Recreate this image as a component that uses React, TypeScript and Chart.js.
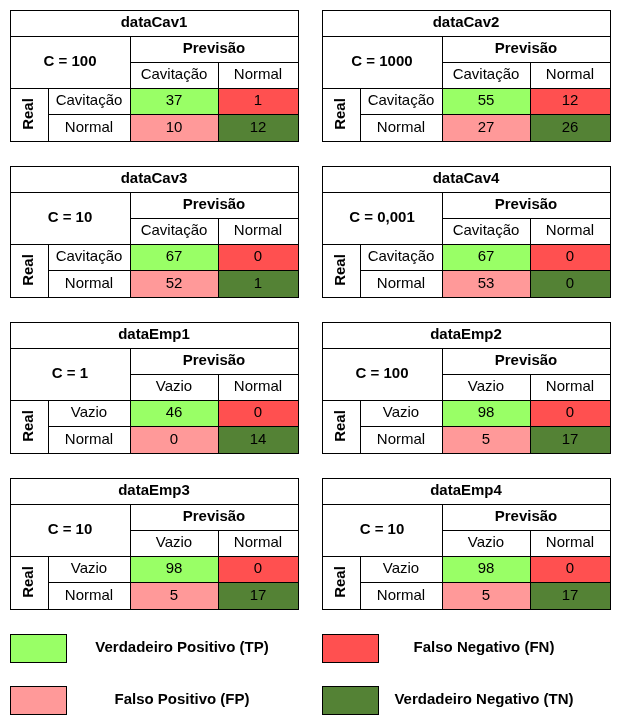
import { useEffect, useRef } from "react";
import { Chart, registerables } from "chart.js";

Chart.register(...registerables);

const names = ["dataCav1", "dataCav2", "dataCav3", "dataCav4", "dataEmp1", "dataEmp2", "dataEmp3", "dataEmp4"];
const cLabels = ["C = 100", "C = 1000", "C = 10", "C = 0,001", "C = 1", "C = 100", "C = 10", "C = 10"];
const firstClass = ["Cavitação", "Cavitação", "Cavitação", "Cavitação", "Vazio", "Vazio", "Vazio", "Vazio"];
// [TP, FN, FP, TN]
const matrices = [
  [37, 1, 10, 12],
  [55, 12, 27, 26],
  [67, 0, 52, 1],
  [67, 0, 53, 0],
  [46, 0, 0, 14],
  [98, 0, 5, 17],
  [98, 0, 5, 17],
  [98, 0, 5, 17],
];
const legendLabels = ["Verdadeiro Positivo (TP)", "Falso Negativo (FN)", "Falso Positivo (FP)", "Verdadeiro Negativo (TN)"];
const colors = ["#99ff66", "#ff5050", "#ff9999", "#548235"];

const FONT = "'Liberation Sans', Arial, sans-serif";

export default function App() {
  const ref = useRef<HTMLCanvasElement | null>(null);

  useEffect(() => {
    document.body.style.margin = "0";
    if (!ref.current) return;

    const plugin = {
      id: "matrices",
      afterDraw: (c: Chart) => {
        const ctx = c.ctx;
        const X = (v: number) => c.scales.x.getPixelForValue(v);
        const Y = (v: number) => c.scales.y.getPixelForValue(v);
        const rect = (x0: number, y0: number, x1: number, y1: number, fill?: string) => {
          const px = Math.round(X(x0)) + 0.5, py = Math.round(Y(y0)) + 0.5;
          const w = Math.round(X(x1)) - Math.round(X(x0)), h = Math.round(Y(y1)) - Math.round(Y(y0));
          if (fill) { ctx.fillStyle = fill; ctx.fillRect(px, py, w, h); }
          ctx.strokeStyle = "#000"; ctx.lineWidth = 1; ctx.strokeRect(px, py, w, h);
        };
        const text = (s: string, x: number, y: number, bold = false, size = 15) => {
          ctx.font = `${bold ? "bold " : ""}${size}px ${FONT}`;
          ctx.fillStyle = "#000"; ctx.textAlign = "center"; ctx.textBaseline = "middle";
          ctx.fillText(s, X(x), Y(y));
        };
        ctx.save();
        ctx.fillStyle = "#fff";
        ctx.fillRect(0, 0, c.width, c.height);
        names.forEach((name, i) => {
          const ox = i % 2 === 0 ? 10 : 322;
          const oy = 10 + Math.floor(i / 2) * 156;
          const cx = [ox, ox + 38, ox + 120, ox + 208, ox + 288];
          const ry = [oy, oy + 26, oy + 52, oy + 78, oy + 104, oy + 131];
          const m = matrices[i];
          rect(cx[0], ry[0], cx[4], ry[1]);
          text(name, (cx[0] + cx[4]) / 2, (ry[0] + ry[1]) / 2, true);
          rect(cx[0], ry[1], cx[2], ry[3]);
          text(cLabels[i], (cx[0] + cx[2]) / 2, ry[2], true);
          rect(cx[2], ry[1], cx[4], ry[2]);
          text("Previsão", (cx[2] + cx[4]) / 2, (ry[1] + ry[2]) / 2, true);
          rect(cx[2], ry[2], cx[3], ry[3]);
          text(firstClass[i], (cx[2] + cx[3]) / 2, (ry[2] + ry[3]) / 2);
          rect(cx[3], ry[2], cx[4], ry[3]);
          text("Normal", (cx[3] + cx[4]) / 2, (ry[2] + ry[3]) / 2);
          rect(cx[0], ry[3], cx[1], ry[5]);
          ctx.save();
          ctx.translate(X((cx[0] + cx[1]) / 2), Y(ry[4]));
          ctx.rotate(-Math.PI / 2);
          ctx.font = `bold 15px ${FONT}`; ctx.fillStyle = "#000";
          ctx.textAlign = "center"; ctx.textBaseline = "middle";
          ctx.fillText("Real", 0, 0);
          ctx.restore();
          rect(cx[1], ry[3], cx[2], ry[4]);
          text(firstClass[i], (cx[1] + cx[2]) / 2, (ry[3] + ry[4]) / 2);
          rect(cx[1], ry[4], cx[2], ry[5]);
          text("Normal", (cx[1] + cx[2]) / 2, (ry[4] + ry[5]) / 2);
          const cells = [[cx[2], cx[3], ry[3], ry[4]], [cx[3], cx[4], ry[3], ry[4]], [cx[2], cx[3], ry[4], ry[5]], [cx[3], cx[4], ry[4], ry[5]]];
          cells.forEach(([a, b, t, u], k) => {
            rect(a, t, b, u, colors[k]);
            text(String(m[k]), (a + b) / 2, (t + u) / 2);
          });
        });
        legendLabels.forEach((lab, k) => {
          const ox = k % 2 === 0 ? 10 : 322;
          const oy = k < 2 ? 634 : 686;
          rect(ox, oy, ox + 56, oy + 28, colors[k]);
          text(lab, ox + 162 + (k % 2 === 0 ? 10 : 0) - (k === 1 ? 0 : 0), oy + 14, true);
        });
        ctx.restore();
      },
    };

    const chart = new Chart(ref.current, {
      type: "scatter",
      data: { datasets: [{ data: [] }] },
      options: {
        animation: false,
        responsive: false,
        layout: { padding: 0 },
        plugins: { legend: { display: false }, tooltip: { enabled: false } },
        scales: {
          x: { type: "linear", min: 0, max: 622, display: false },
          y: { type: "linear", min: 0, max: 721, reverse: true, display: false },
        },
      },
      plugins: [plugin],
    });
    return () => chart.destroy();
  }, []);

  return <canvas ref={ref} width={622} height={721} style={{ display: "block" }} />;
}
